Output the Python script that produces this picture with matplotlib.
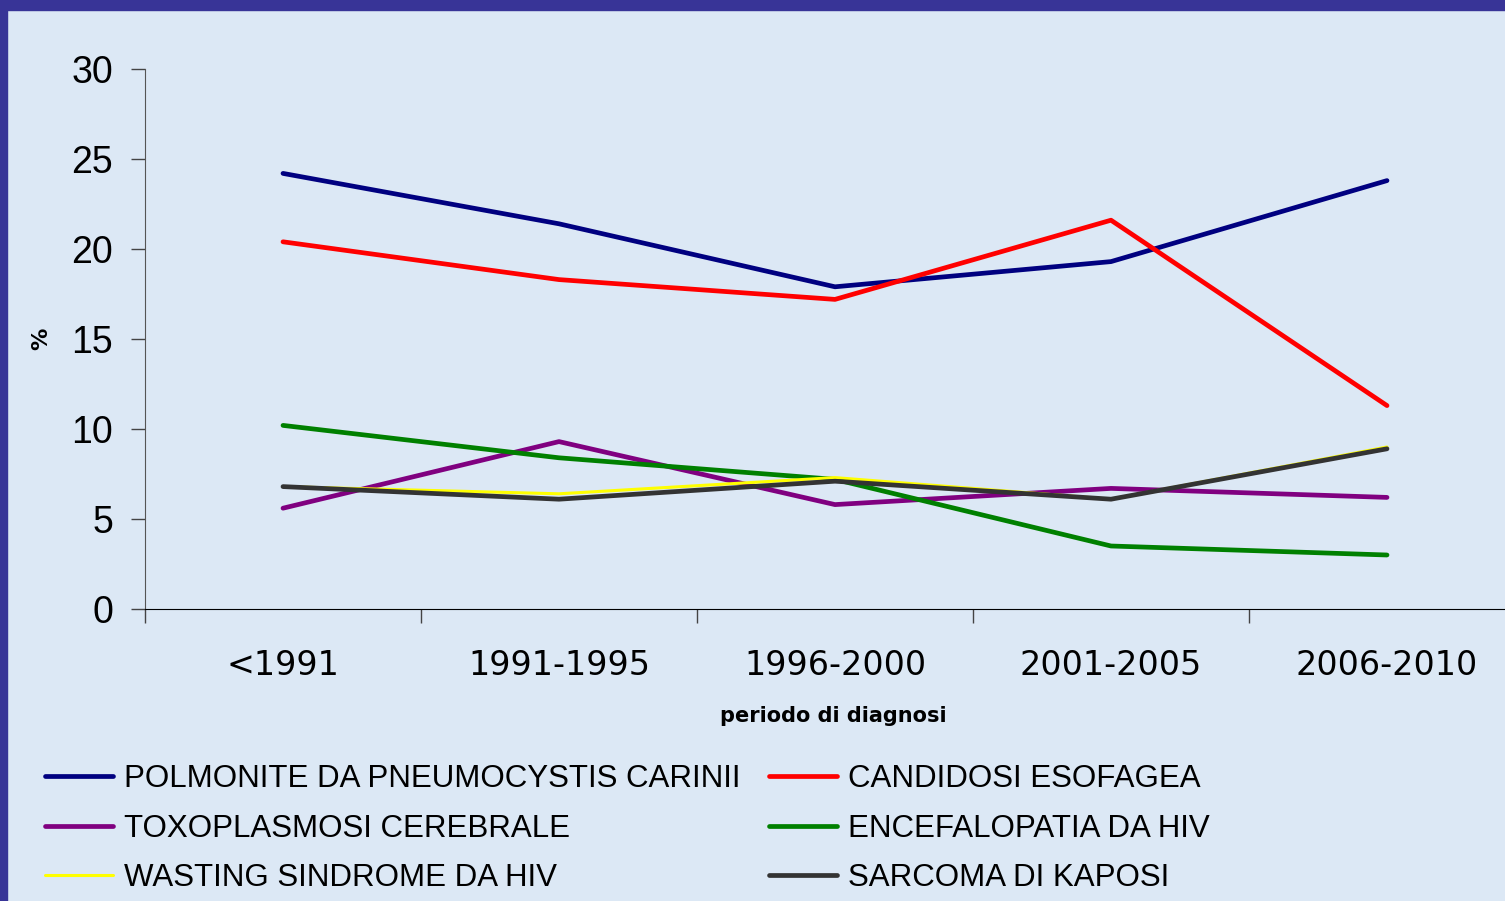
import numpy as np
import matplotlib
matplotlib.use("Agg")
import matplotlib.pyplot as plt
from matplotlib.patches import Rectangle

# data (% of AIDS-defining diseases by period of diagnosis)
periods = ["<1991", "1991-1995", "1996-2000", "2001-2005", "2006-2010"]
pneumocystis = [24.2, 21.4, 17.9, 19.3, 23.8]
candidosi = [20.4, 18.3, 17.2, 21.6, 11.3]
toxoplasmosi = [5.6, 9.3, 5.8, 6.7, 6.2]
encefalopatia = [10.2, 8.4, 7.2, 3.5, 3.0]
wasting = [6.8, 6.4, 7.3, 6.1, 9.0]
kaposi = [6.8, 6.1, 7.1, 6.1, 8.9]

series = [
    ("POLMONITE DA PNEUMOCYSTIS CARINII", pneumocystis, "#000080", 3.4),
    ("CANDIDOSI ESOFAGEA", candidosi, "#FF0000", 3.4),
    ("TOXOPLASMOSI CEREBRALE", toxoplasmosi, "#800080", 3.4),
    ("ENCEFALOPATIA DA HIV", encefalopatia, "#008000", 3.4),
    ("WASTING SINDROME DA HIV", wasting, "#FFFF00", 2.2),
    ("SARCOMA DI KAPOSI", kaposi, "#333333", 3.4),
]

bg = "#DCE8F5"
border = "#383497"

fig = plt.figure(figsize=(15.05, 9.01), dpi=100, facecolor=bg)
W, H = 1505, 901

# dark blue frame on top and left
fig.patches.append(Rectangle((0, 1 - 10 / H), 1, 10 / H, transform=fig.transFigure,
                             color=border, zorder=0))
fig.patches.append(Rectangle((0, 0), 7 / W, 1, transform=fig.transFigure,
                             color=border, zorder=0))

ax = fig.add_axes([145 / W, 292 / H, 1380 / W, 540 / H])
ax.set_facecolor("none")

x = np.arange(len(periods))
lines = []
for name, vals, col, lw in series:
    ln, = ax.plot(x, vals, color=col, lw=lw, solid_joinstyle="round",
                  solid_capstyle="round", label=name)
    lines.append(ln)

ax.set_xlim(-0.5, len(periods) - 0.5)
ax.set_ylim(0, 30)
ax.set_yticks(range(0, 31, 5))
ax.tick_params(axis="y", length=10, width=1, colors="#444444", labelcolor="black",
               pad=13, labelsize=27)
for t in ax.get_yticklabels():
    t.set_family(["Liberation Sans", "DejaVu Sans"])

# boundary ticks on x, labels at the category centres
ax.set_xticks(np.arange(-0.5, len(periods), 1.0))
ax.set_xticklabels([])
ax.tick_params(axis="x", which="major", length=10, width=1, colors="#444444")
ax.set_xticks(x, minor=True)
ax.set_xticklabels(periods, minor=True, fontsize=24, family="DejaVu Sans")
ax.tick_params(axis="x", which="minor", length=0, pad=29)

for s in ["top", "right"]:
    ax.spines[s].set_visible(False)
ax.spines["left"].set_color("#555555")
ax.spines["bottom"].set_color("black")

ax.set_ylabel("%", fontsize=16, fontweight="bold", family="DejaVu Sans")
ax.yaxis.set_label_coords(-0.068, 0.5)
fig.text(833 / W, 1 - 716 / H, "periodo di diagnosi", ha="center",
         va="center", fontsize=15, fontweight="bold", family="DejaVu Sans")

# legend is filled row by row in the reference -> reorder for column-major fill
order = [0, 2, 4, 1, 3, 5]
leg = fig.legend([lines[i] for i in order], [series[i][0] for i in order], ncol=2,
                 loc="upper left", bbox_to_anchor=(45 / W, 1 - 764 / H), frameon=False,
                 prop={"family": ["Liberation Sans", "DejaVu Sans"], "size": 22.5},
                 handlelength=2.18, handletextpad=0.35, columnspacing=0.9,
                 labelspacing=0.63, borderaxespad=0, borderpad=0)

fig.savefig("out.png", dpi=100, facecolor=bg)
